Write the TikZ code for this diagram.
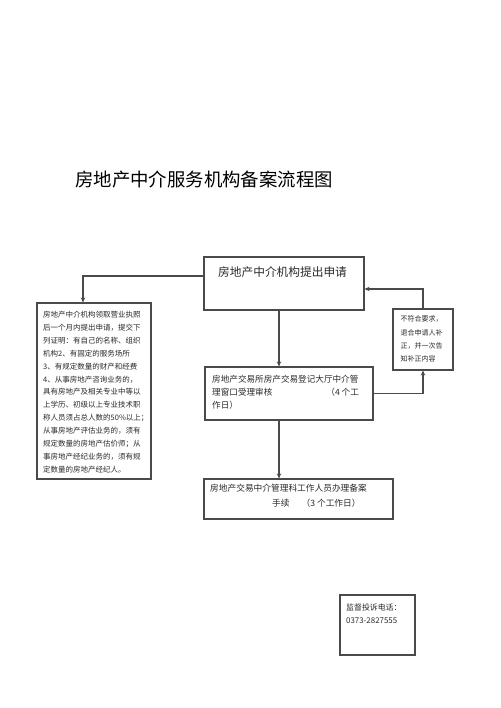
\documentclass[tikz,border=0pt]{standalone}
\usepackage{fontspec}
\setmainfont{Noto Sans CJK SC}
\newfontfamily\cjk{Noto Sans CJK SC}
\usetikzlibrary{arrows.meta}
\definecolor{linec}{HTML}{4A4A4A}
\definecolor{txtc}{HTML}{2A2A2A}
\tikzset{
  boxx/.style={draw=linec, line width=1.1pt, rectangle, inner sep=0pt},
  txt/.style={anchor=north west, inner sep=0pt, align=left, text=txtc},
  arr/.style={draw=linec, line width=1.1pt, -{Stealth[length=5pt,width=4.5pt]}}
}
\begin{document}
\begin{tikzpicture}[x=1pt,y=-1pt]
\useasboundingbox[fill=white] (0,0) rectangle (500,708);
% title
\node[anchor=west, inner sep=0pt, text=black, font=\cjk\fontsize{18.4}{20}\selectfont] (title) at (75,180) {房地产中介服务机构备案流程图};
% boxes
\node[boxx, minimum width=160pt, minimum height=53pt] (b1) at (284,283.5) {};
\node[boxx, minimum width=114pt, minimum height=176pt] (lb) at (94,391) {};
\node[boxx, minimum width=168pt, minimum height=53pt] (b2) at (289,393.5) {};
\node[boxx, minimum width=60pt, minimum height=61pt] (b3) at (423,339.5) {};
\node[boxx, minimum width=189pt, minimum height=40pt] (b4) at (298.5,499) {};
\node[boxx, minimum width=75pt, minimum height=60pt] (b5) at (377.5,625) {};
% texts
\node[anchor=west, inner sep=0pt, text=txtc, font=\fontsize{11.7}{13}\selectfont] (t1) at (218,272) {房地产中介机构提出申请};
\node[txt, font=\fontsize{7.5}{12.9}\selectfont] (tl) at (43,311) {房地产中介机构领取营业执照\\后一个月内提出申请，提交下\\列证明：有自己的名称、组织\\机构2、有固定的服务场所\\3、有规定数量的财产和经费\\4、从事房地产咨询业务的，\\具有房地产及相关专业中等以\\上学历、初级以上专业技术职\\称人员须占总人数的50\%以上；\\从事房地产评估业务的，须有\\规定数量的房地产估价师；从\\事房地产经纪业务的，须有规\\定数量的房地产经纪人。};
\node[txt, font=\fontsize{8.6}{13}\selectfont] (t2) at (212,374.5) {房地产交易所房产交易登记大厅中介管\\理窗口受理审核\hspace*{54pt}（4 个工\\作日）};
\node[txt, font=\fontsize{7}{13.4}\selectfont] (t3) at (400.5,315.5) {不符合要求，\\退合申请人补\\正，并一次告\\知补正内容};
\node[txt, font=\fontsize{8.7}{15}\selectfont] (t4) at (210,483.5) {房地产交易中介管理科工作人员办理备案\\\hspace*{62pt}手续\hspace*{12pt}（3 个工作日）};
\node[txt, font=\fontsize{7.9}{13}\selectfont] (t5) at (346,604) {监督投诉电话：\\0373-2827555};
% connectors
\draw[arr] ([yshift=7.5pt]b1.west) -| ([xshift=-11pt]lb.north);
\draw[arr] ([xshift=-5pt]b1.south) -- ([xshift=-5pt]b1.south |- b2.north);
\draw[arr] (b2.east) -| (b3.south);
\draw[arr] (b3.north) |- ([yshift=-5.5pt]b1.east);
\draw[arr] ([xshift=-10pt]b2.south) -- ([xshift=-10pt]b2.south |- b4.north);
\end{tikzpicture}
\end{document}
